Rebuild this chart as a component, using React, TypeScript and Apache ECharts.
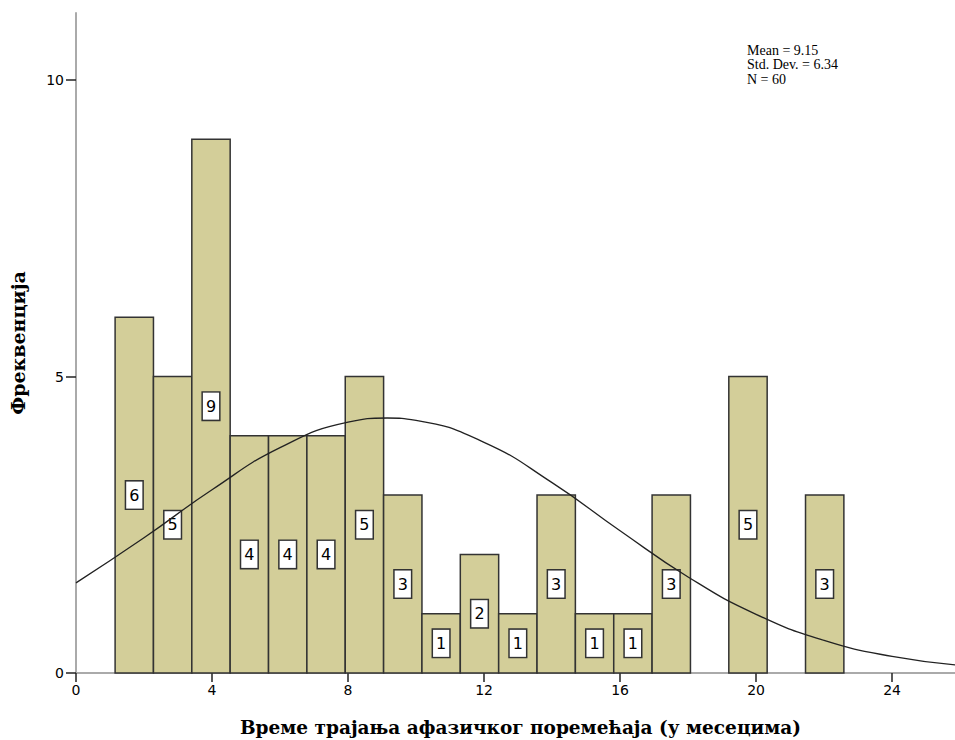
import React, { useEffect, useRef } from "react";
import * as echarts from "echarts";

// Histogram bins (left edges, months)
const binStarts = [1.15, 2.278, 3.406, 4.534, 5.662, 6.79, 7.918, 9.046, 10.174, 11.302, 12.43, 13.558, 14.686, 15.814, 16.942, 18.07, 19.198, 20.326, 21.454];
const binWidth = 1.128;
const counts = [6, 5, 9, 4, 4, 4, 5, 3, 1, 2, 1, 3, 1, 1, 3, 0, 5, 0, 3];

// Normal curve points
const curveX = [0, 2, 4, 6, 8, 9.15, 10, 12, 14, 16, 18, 20, 22, 24, 26];
const curveY = [1.52, 2.28, 3.09, 3.8, 4.23, 4.3, 4.26, 3.89, 3.21, 2.4, 1.62, 0.99, 0.55, 0.28, 0.13];

const xTicks = [0, 4, 8, 12, 16, 20, 24];
const yTicks = [0, 5, 10];
const statsLines = ["Mean = 9.15", "Std. Dev. = 6.34", "N = 60"];

const xTitle = "Време трајања афазичког поремећаја (у месецима)";
const yTitle = "Фреквенција";

const SERIF = '"Liberation Serif", "DejaVu Serif", serif';
const SANS = '"DejaVu Sans", sans-serif';

export default function App() {
  const ref = useRef<HTMLDivElement>(null);
  useEffect(() => {
    document.body.style.margin = "0";
    if (!ref.current) return;
    const chart = echarts.init(ref.current, null, { renderer: "svg" });
    const histData = binStarts.map((s, i) => [s, s + binWidth, counts[i]]);
    const curveData = curveX.map((x, i) => [x, curveY[i]]);
    chart.setOption({
      animation: false,
      backgroundColor: "#fff",
      grid: { left: 76, top: 13, right: 0, bottom: 67, containLabel: false, outerBoundsMode: "none" },
      xAxis: {
        type: "value",
        min: 0,
        max: 25.85,
        interval: 4,
        name: xTitle,
        nameLocation: "middle",
        nameGap: 45,
        nameTextStyle: { fontFamily: '"DejaVu Serif", serif', fontWeight: "bold", fontSize: 18.5, color: "#000", padding: [0, 0, 0, 10] },
        axisLine: { show: true, onZero: false, lineStyle: { color: "#aaa", width: 2 } },
        axisTick: { show: true, length: 9, customValues: xTicks, lineStyle: { color: "#222", width: 1.5 } },
        axisLabel: { customValues: xTicks, fontFamily: SANS, fontSize: 14, color: "#000", margin: 10 },
        splitLine: { show: false },
      },
      yAxis: {
        type: "value",
        min: 0,
        max: 11.13,
        interval: 5,
        name: yTitle,
        nameLocation: "middle",
        nameGap: 49,
        nameTextStyle: { fontFamily: '"DejaVu Serif", serif', fontWeight: "bold", fontSize: 19, color: "#000" },
        axisLine: { show: true, onZero: false, lineStyle: { color: "#aaa", width: 2 } },
        axisTick: { show: true, length: 10, customValues: yTicks, lineStyle: { color: "#222", width: 1.5 } },
        axisLabel: { customValues: yTicks, fontFamily: SANS, fontSize: 14, color: "#000", margin: 12 },
        splitLine: { show: false },
      },
      graphic: statsLines.map((t, i) => ({
        type: "text",
        left: 747,
        top: 43 + i * 14.5,
        style: { text: t, font: `14px ${SERIF}`, fill: "#000" },
      })),
      series: [
        {
          type: "custom",
          z: 2,
          data: histData,
          renderItem: (params: any, api: any) => {
            const x0 = api.value(0);
            const x1 = api.value(1);
            const c = api.value(2);
            if (!c) return { type: "group", children: [] };
            const p0 = api.coord([x0, c]);
            const p1 = api.coord([x1, 0]);
            return {
              type: "group",
              children: [
                {
                  type: "rect",
                  shape: { x: p0[0], y: p0[1], width: p1[0] - p0[0], height: p1[1] - p0[1] },
                  style: { fill: "#D3CE99", stroke: "#333", lineWidth: 1.5 },
                },
                {
                  type: "text",
                  z2: 10,
                  x: (p0[0] + p1[0]) / 2,
                  y: (p0[1] + p1[1]) / 2,
                  style: {
                    text: String(c),
                    align: "center",
                    verticalAlign: "middle",
                    font: `16px ${SANS}`,
                    fill: "#000",
                    backgroundColor: "#fff",
                    borderColor: "#333",
                    borderWidth: 1.5,
                    padding: [6, 3, 5, 3],
                  },
                },
              ],
            };
          },
        },
        {
          type: "line",
          z: 3,
          data: curveData,
          smooth: true,
          showSymbol: false,
          symbol: "none",
          lineStyle: { color: "#222", width: 1.3 },
          clip: true,
        },
      ],
    });
    return () => chart.dispose();
  }, []);
  return <div ref={ref} style={{ width: 955, height: 740 }} />;
}
